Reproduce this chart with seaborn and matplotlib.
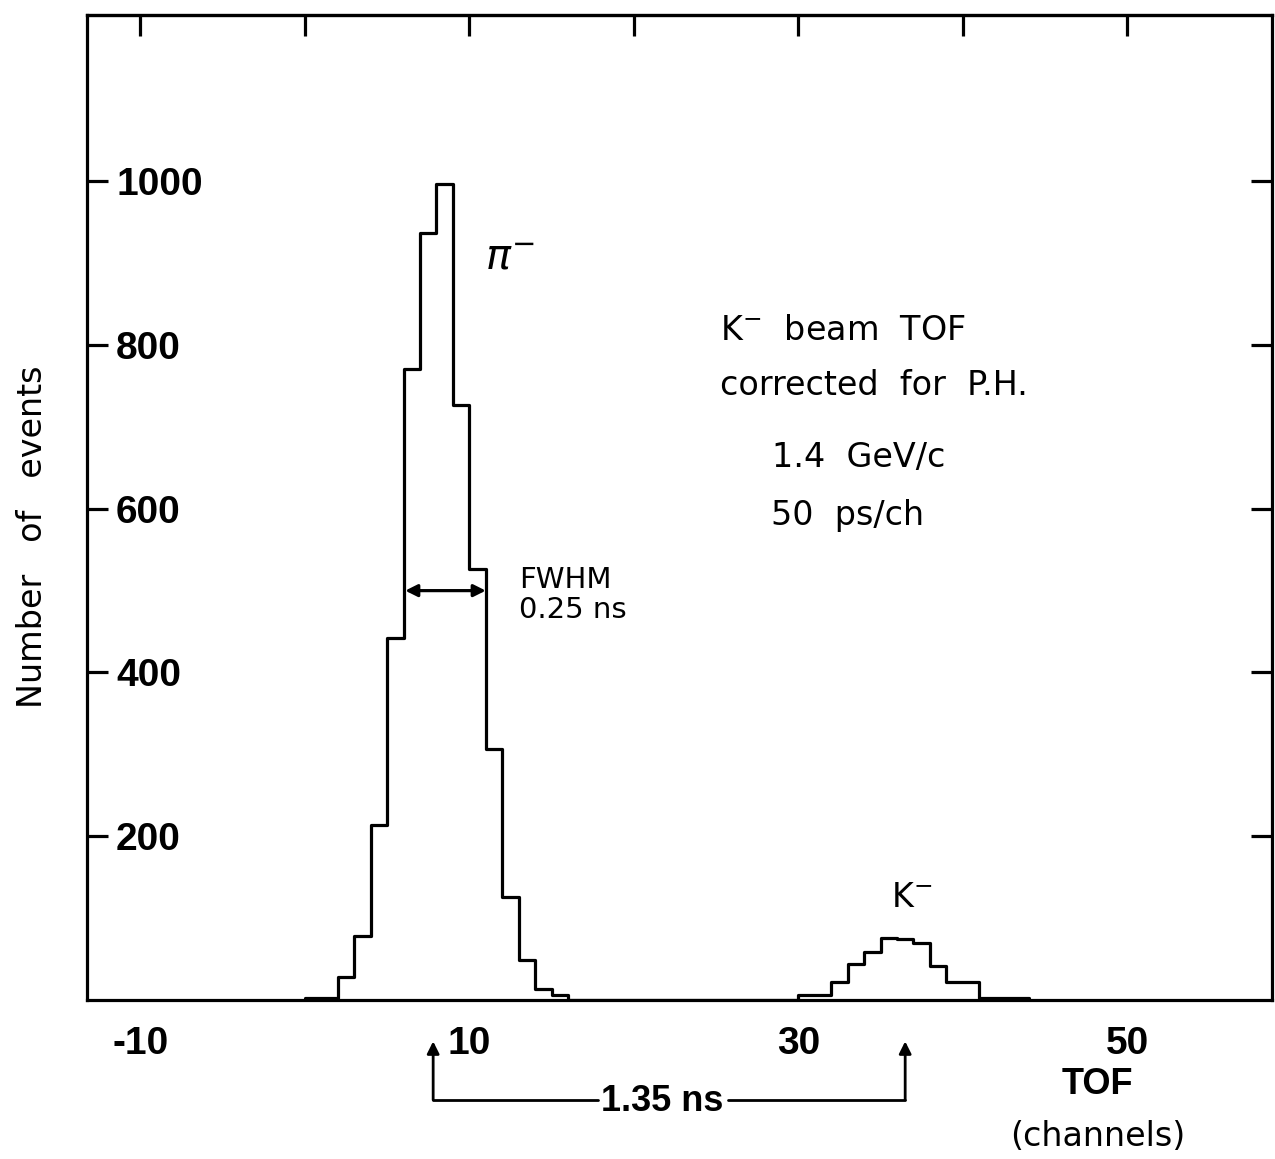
import numpy as np
import pandas as pd
import matplotlib
matplotlib.use("Agg")
import matplotlib.pyplot as plt
import seaborn as sns

# ---- data ----
channels = list(range(0, 44))
pi_counts = [3, 3, 28, 78, 214, 442, 771, 937, 997, 727, 526, 307, 126, 49, 14, 6]
gap_counts = [0] * 14
k_counts = [6, 6, 22, 44, 58, 76, 74, 70, 41, 22, 22, 3, 3, 2]
counts = pi_counts + gap_counts + k_counts

x_ticks = [-10, 0, 10, 20, 30, 40, 50]
x_ticklabels = ["-10", "", "10", "", "30", "", "50"]
y_ticks = [200, 400, 600, 800, 1000]
y_ticklabels = ["200", "400", "600", "800", "1000"]

df = pd.DataFrame({"channel": channels, "events": counts})

sns.set_theme(style="white")
plt.rcParams["font.family"] = ["Liberation Sans", "DejaVu Sans"]
plt.rcParams["text.color"] = "black"
plt.rcParams["axes.labelcolor"] = "black"
plt.rcParams["xtick.color"] = "black"
plt.rcParams["ytick.color"] = "black"

fig = plt.figure(figsize=(12.75, 11.59), dpi=100)
ax = fig.add_axes([0.0682, 0.1372, 0.9294, 0.8498])

sns.histplot(data=df, x="channel", weights="events", binwidth=1, binrange=(0, 44),
             element="step", fill=False, color="black", linewidth=2.3, ax=ax)

ax.set_xlim(-13.25, 58.8)
ax.set_ylim(0, 1203)
ax.set_xlabel("")
ax.set_ylabel("Number   of   events", fontsize=24, family=["DejaVu Sans"], color="black")
ax.yaxis.set_label_coords(-0.032, 0.47)

for s in ax.spines.values():
    s.set_color("black")
    s.set_linewidth(2.3)

tick_font = dict(fontsize=28, fontweight="bold", color="black")
ax.set_xticks(x_ticks)
ax.set_xticklabels(x_ticklabels, **tick_font)
ax.tick_params(axis="x", direction="out", length=18, width=2.3, color="black", pad=1)
ax.set_yticks(y_ticks)
ax.set_yticklabels(y_ticklabels, **tick_font)
ax.tick_params(axis="y", direction="in", length=15, width=2.3, color="black",
               left=True, right=True, pad=-21)
for lab in ax.get_yticklabels():
    lab.set_horizontalalignment("left")

top = ax.secondary_xaxis("top")
top.set_xticks(x_ticks)
top.set_xticklabels([])
top.tick_params(direction="in", length=15, width=2.3, color="black")
top.spines["top"].set_linewidth(2.3)

txt = dict(fontsize=24, color="black", family=["DejaVu Sans"], ha="center", va="center")
ax.text(12.5, 906, r"$\pi^{-}$", fontsize=30, ha="center", va="center", color="black")
ax.text(32.7, 818, "K$^{-}$  beam  TOF", **txt)
ax.text(34.6, 751, "corrected  for  P.H.", **txt)
ax.text(33.7, 662, "1.4  GeV/c", **txt)
ax.text(33.0, 592, "50  ps/ch", **txt)
ax.text(13.0, 513, "FWHM", fontsize=21, family=["DejaVu Sans"], ha="left", va="center",
        color="black")
ax.text(13.0, 476, "0.25 ns", fontsize=21, family=["DejaVu Sans"], ha="left", va="center",
        color="black")
ax.text(36.9, 125, "K$^{-}$", **txt)

ax.annotate("", xy=(6.1, 500), xytext=(11.0, 500),
            arrowprops=dict(arrowstyle="<|-|>", lw=2.3, color="black",
                            mutation_scale=18, shrinkA=0, shrinkB=0))

tr = ax.get_xaxis_transform()
y_line = -0.1015
ax.plot([7.8, 17.8], [y_line, y_line], color="black", lw=2, transform=tr, clip_on=False)
ax.plot([25.7, 36.5], [y_line, y_line], color="black", lw=2, transform=tr, clip_on=False)
for xa in (7.8, 36.5):
    ax.annotate("", xy=(xa, -0.042), xytext=(xa, y_line), xycoords=tr, textcoords=tr,
                annotation_clip=False,
                arrowprops=dict(arrowstyle="-|>", lw=2, color="black",
                                mutation_scale=18, shrinkA=0, shrinkB=0))
ax.text(21.7, y_line - 0.002, "1.35 ns", transform=tr, fontsize=26, fontweight="bold",
        ha="center", va="center", clip_on=False, color="black")
ax.text(48.2, -0.086, "TOF", transform=tr, fontsize=26, fontweight="bold",
        ha="center", va="center", clip_on=False, color="black")
ax.text(48.2, -0.139, "(channels)", transform=tr, fontsize=24, family=["DejaVu Sans"],
        ha="center", va="center", clip_on=False, color="black")

fig.savefig("out.png", dpi=100, facecolor="white")
